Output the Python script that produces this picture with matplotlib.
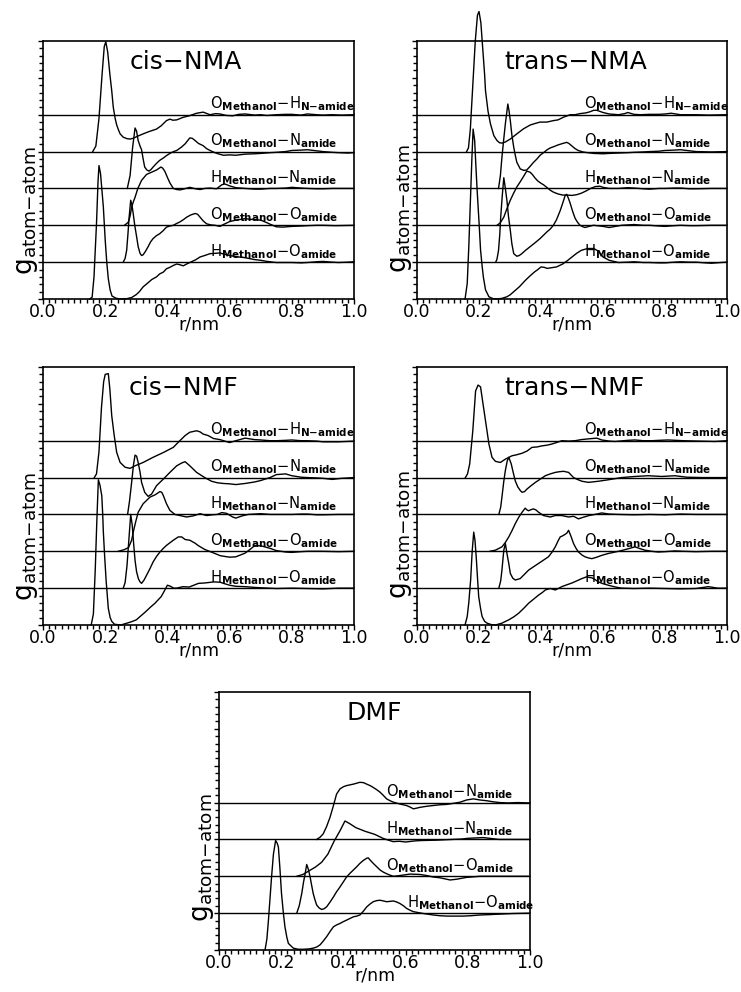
import matplotlib
matplotlib.use("Agg")
import matplotlib.pyplot as plt
import matplotlib.transforms as mtransforms
from matplotlib.ticker import MultipleLocator, FormatStrFormatter

plt.rcParams['font.family'] = ['DejaVu Sans']
plt.rcParams['mathtext.fontset'] = 'dejavusans'

# pair labels (bottom to top of each stack)
LABEL_HO = r'H$_{\mathbf{Methanol}}$−O$_{\mathbf{amide}}$'
LABEL_OO = r'O$_{\mathbf{Methanol}}$−O$_{\mathbf{amide}}$'
LABEL_HN = r'H$_{\mathbf{Methanol}}$−N$_{\mathbf{amide}}$'
LABEL_ON = r'O$_{\mathbf{Methanol}}$−N$_{\mathbf{amide}}$'
LABEL_OH = r'O$_{\mathbf{Methanol}}$−H$_{\mathbf{N{-}amide}}$'

# ---- cis-NMA : (r/nm, g) ----
cis_nma_ho = [(0.150, 0.0), (0.158, 0.05), (0.164, 0.6), (0.172, 2.04), (0.177, 3.2), (0.180, 3.62),
              (0.185, 3.4), (0.190, 2.9), (0.194, 2.5), (0.200, 1.6), (0.205, 1.0), (0.210, 0.55),
              (0.216, 0.24), (0.222, 0.08), (0.235, 0.02), (0.250, 0.0), (0.270, 0.01), (0.285, 0.04),
              (0.300, 0.12), (0.310, 0.2), (0.322, 0.33), (0.335, 0.42), (0.350, 0.53), (0.365, 0.6),
              (0.375, 0.68), (0.387, 0.73), (0.397, 0.82), (0.408, 0.86), (0.419, 0.91), (0.430, 0.95),
              (0.440, 0.93), (0.451, 0.9), (0.462, 0.95), (0.472, 0.99), (0.490, 1.06), (0.505, 1.14),
              (0.520, 1.18), (0.537, 1.23), (0.555, 1.24), (0.569, 1.25), (0.580, 1.22), (0.60, 1.18),
              (0.62, 1.15), (0.65, 1.12), (0.68, 1.07), (0.70, 1.05), (0.72, 1.02), (0.75, 0.99),
              (0.78, 0.99), (0.80, 0.99), (0.83, 0.98), (0.85, 0.99), (0.88, 1.01), (0.90, 1.02),
              (0.93, 1.0), (0.95, 0.99), (0.98, 1.0), (1.0, 1.01)]
cis_nma_oo = [(0.258, 0.0), (0.264, 0.1), (0.269, 0.32), (0.273, 0.75), (0.277, 1.22), (0.282, 1.68),
              (0.286, 1.55), (0.290, 1.32), (0.295, 1.0), (0.301, 0.69), (0.306, 0.42), (0.312, 0.24),
              (0.317, 0.18), (0.322, 0.2), (0.330, 0.3), (0.338, 0.42), (0.346, 0.55), (0.354, 0.64),
              (0.365, 0.72), (0.375, 0.77), (0.386, 0.85), (0.397, 0.95), (0.408, 0.98), (0.419, 1.0),
              (0.430, 1.05), (0.440, 1.09), (0.451, 1.15), (0.462, 1.22), (0.475, 1.28), (0.489, 1.32),
              (0.497, 1.3), (0.505, 1.22), (0.515, 1.12), (0.526, 1.04), (0.540, 1.01), (0.553, 1.0),
              (0.569, 0.97), (0.58, 1.02), (0.60, 1.1), (0.62, 1.14), (0.65, 1.18), (0.67, 1.16),
              (0.70, 1.14), (0.72, 1.07), (0.73, 1.03), (0.75, 0.96), (0.77, 0.95), (0.80, 0.97),
              (0.83, 0.98), (0.85, 0.99), (0.88, 1.0), (0.90, 1.0), (0.94, 0.99), (1.0, 1.0)]
cis_nma_hn = [(0.262, 0.0), (0.274, 0.08), (0.280, 0.25), (0.285, 0.49), (0.291, 0.65), (0.296, 0.76),
              (0.305, 1.0), (0.317, 1.22), (0.333, 1.38), (0.349, 1.44), (0.365, 1.5), (0.379, 1.58),
              (0.385, 1.55), (0.392, 1.46), (0.400, 1.3), (0.408, 1.15), (0.419, 1.0), (0.430, 0.97),
              (0.441, 0.96), (0.455, 0.99), (0.472, 1.03), (0.49, 0.99), (0.505, 0.97), (0.52, 1.0),
              (0.537, 1.01), (0.558, 0.99), (0.575, 1.1), (0.585, 1.12), (0.60, 1.07), (0.62, 1.02),
              (0.65, 1.0), (0.68, 0.98), (0.70, 0.98), (0.73, 1.0), (0.75, 1.0), (0.78, 1.01),
              (0.80, 1.03), (0.83, 1.01), (0.85, 1.0), (0.88, 0.99), (0.90, 0.99), (0.93, 1.0),
              (0.96, 1.0), (1.0, 1.0)]
cis_nma_on = [(0.271, 0.0), (0.280, 0.35), (0.288, 1.1), (0.296, 1.64), (0.301, 1.55), (0.306, 1.3),
              (0.312, 1.15), (0.317, 1.05), (0.322, 0.8), (0.327, 0.58), (0.334, 0.5), (0.341, 0.47),
              (0.348, 0.52), (0.354, 0.58), (0.365, 0.68), (0.375, 0.76), (0.386, 0.82), (0.397, 0.89),
              (0.41, 0.96), (0.42, 1.0), (0.430, 1.03), (0.445, 1.12), (0.457, 1.21), (0.472, 1.37),
              (0.480, 1.36), (0.489, 1.3), (0.50, 1.22), (0.515, 1.16), (0.526, 1.08), (0.537, 1.03),
              (0.550, 0.98), (0.563, 0.94), (0.58, 0.9), (0.60, 0.91), (0.62, 0.9), (0.65, 0.93),
              (0.68, 0.94), (0.70, 0.95), (0.73, 0.97), (0.75, 0.98), (0.78, 1.0), (0.80, 1.03),
              (0.83, 1.04), (0.85, 1.05), (0.88, 1.02), (0.90, 1.0), (0.93, 0.98), (0.95, 0.97),
              (0.98, 0.96), (1.0, 0.97)]
cis_nma_oh = [(0.160, 0.0), (0.170, 0.15), (0.180, 0.9), (0.190, 2.1), (0.197, 2.85), (0.202, 2.98),
              (0.208, 2.7), (0.215, 2.1), (0.221, 1.65), (0.226, 1.2), (0.232, 0.9), (0.237, 0.72),
              (0.243, 0.58), (0.248, 0.48), (0.258, 0.39), (0.270, 0.35), (0.280, 0.34), (0.290, 0.36),
              (0.305, 0.42), (0.322, 0.48), (0.340, 0.54), (0.365, 0.61), (0.380, 0.7), (0.397, 0.84),
              (0.408, 0.88), (0.418, 0.85), (0.430, 0.86), (0.451, 0.93), (0.470, 0.97), (0.494, 1.04),
              (0.515, 1.07), (0.537, 1.0), (0.555, 1.03), (0.569, 1.02), (0.59, 0.98), (0.61, 0.97),
              (0.63, 1.01), (0.65, 1.02), (0.68, 0.99), (0.70, 1.0), (0.72, 0.98), (0.75, 1.0),
              (0.78, 1.01), (0.80, 1.01), (0.83, 0.99), (0.85, 1.02), (0.88, 1.0), (0.90, 0.99),
              (0.93, 1.0), (0.96, 0.99), (1.0, 1.0)]

# ---- trans-NMA ----
trans_nma_ho = [(0.155, 0.0), (0.162, 0.42), (0.167, 1.4), (0.172, 2.6), (0.177, 3.8), (0.181, 4.61),
                (0.186, 4.3), (0.190, 3.6), (0.194, 2.95), (0.200, 2.1), (0.205, 1.33), (0.210, 0.9),
                (0.214, 0.6), (0.221, 0.25), (0.232, 0.06), (0.245, 0.01), (0.26, 0.0), (0.275, 0.02),
                (0.29, 0.06), (0.300, 0.11), (0.315, 0.22), (0.330, 0.33), (0.340, 0.42), (0.350, 0.51),
                (0.365, 0.63), (0.380, 0.74), (0.390, 0.8), (0.400, 0.87), (0.410, 0.86), (0.420, 0.83),
                (0.435, 0.85), (0.450, 0.87), (0.470, 0.95), (0.485, 1.04), (0.500, 1.14), (0.515, 1.24),
                (0.530, 1.32), (0.550, 1.37), (0.570, 1.37), (0.585, 1.3), (0.600, 1.14), (0.620, 1.05),
                (0.65, 0.99), (0.68, 1.0), (0.70, 1.01), (0.73, 0.99), (0.75, 0.99), (0.78, 0.98),
                (0.80, 0.98), (0.83, 1.0), (0.85, 1.01), (0.88, 1.0), (0.90, 1.0), (0.93, 0.98),
                (0.95, 0.97), (0.98, 0.99), (1.0, 1.0)]
trans_nma_oo = [(0.254, 0.0), (0.258, 0.08), (0.263, 0.32), (0.267, 0.75), (0.270, 1.22), (0.275, 1.8),
                (0.280, 2.29), (0.285, 2.0), (0.290, 1.68), (0.295, 1.25), (0.301, 0.86), (0.306, 0.5),
                (0.312, 0.23), (0.322, 0.16), (0.330, 0.18), (0.338, 0.23), (0.350, 0.32), (0.365, 0.42),
                (0.380, 0.52), (0.397, 0.64), (0.408, 0.73), (0.419, 0.82), (0.430, 0.9), (0.440, 1.0),
                (0.450, 1.15), (0.462, 1.4), (0.470, 1.6), (0.478, 1.81), (0.483, 1.84), (0.489, 1.72),
                (0.494, 1.6), (0.502, 1.38), (0.510, 1.19), (0.518, 1.08), (0.526, 1.0), (0.535, 0.96),
                (0.542, 0.94), (0.555, 0.97), (0.569, 1.0), (0.58, 0.99), (0.60, 0.97), (0.62, 0.94),
                (0.64, 0.97), (0.66, 1.0), (0.68, 1.01), (0.70, 1.02), (0.73, 1.0), (0.75, 1.0),
                (0.78, 0.98), (0.80, 0.97), (0.83, 0.99), (0.85, 1.0), (0.88, 0.99), (0.90, 0.99),
                (0.95, 1.0), (1.0, 1.0)]
trans_nma_hn = [(0.258, 0.0), (0.268, 0.06), (0.280, 0.22), (0.290, 0.45), (0.301, 0.68), (0.311, 0.86),
                (0.322, 1.04), (0.333, 1.18), (0.344, 1.33), (0.354, 1.47), (0.365, 1.44), (0.372, 1.38),
                (0.381, 1.28), (0.390, 1.2), (0.400, 1.14), (0.408, 1.1), (0.420, 1.02), (0.430, 0.95),
                (0.440, 0.9), (0.455, 0.85), (0.470, 0.82), (0.485, 0.82), (0.50, 0.81), (0.515, 0.83),
                (0.53, 0.87), (0.545, 0.93), (0.56, 1.0), (0.575, 1.05), (0.59, 1.06), (0.60, 1.03),
                (0.62, 1.0), (0.65, 1.0), (0.68, 1.02), (0.70, 1.01), (0.73, 0.99), (0.75, 0.98),
                (0.78, 1.0), (0.80, 1.0), (0.83, 1.01), (0.85, 1.01), (0.88, 0.99), (0.90, 0.99),
                (0.95, 1.0), (1.0, 1.0)]
trans_nma_on = [(0.263, 0.0), (0.269, 0.35), (0.274, 0.85), (0.280, 1.35), (0.285, 1.75), (0.293, 2.29),
                (0.297, 2.1), (0.301, 1.84), (0.306, 1.45), (0.312, 1.12), (0.317, 0.9), (0.322, 0.71),
                (0.333, 0.53), (0.344, 0.49), (0.354, 0.5), (0.365, 0.6), (0.375, 0.7), (0.387, 0.8),
                (0.397, 0.9), (0.408, 0.97), (0.420, 1.05), (0.430, 1.1), (0.440, 1.13), (0.455, 1.18),
                (0.470, 1.22), (0.483, 1.25), (0.490, 1.22), (0.500, 1.15), (0.510, 1.08), (0.520, 1.03),
                (0.535, 0.99), (0.550, 0.97), (0.57, 0.95), (0.60, 0.94), (0.62, 0.95), (0.65, 0.96),
                (0.68, 0.97), (0.70, 0.98), (0.73, 0.99), (0.75, 1.0), (0.78, 1.01), (0.80, 1.03),
                (0.83, 1.04), (0.85, 1.05), (0.88, 1.02), (0.90, 1.0), (0.95, 0.99), (1.0, 1.0)]
trans_nma_oh = [(0.160, 0.0), (0.166, 0.1), (0.172, 0.6), (0.180, 1.8), (0.188, 3.0), (0.195, 3.7),
                (0.200, 3.8), (0.206, 3.5), (0.212, 2.8), (0.218, 2.1), (0.221, 1.65), (0.229, 1.1),
                (0.237, 0.75), (0.248, 0.43), (0.258, 0.3), (0.266, 0.24), (0.274, 0.23), (0.285, 0.26),
                (0.301, 0.34), (0.322, 0.48), (0.344, 0.62), (0.365, 0.72), (0.380, 0.76), (0.397, 0.8),
                (0.419, 0.8), (0.440, 0.84), (0.455, 0.86), (0.472, 0.93), (0.494, 1.0), (0.510, 1.0),
                (0.526, 1.03), (0.545, 1.05), (0.558, 1.08), (0.570, 1.12), (0.580, 1.12), (0.60, 1.06),
                (0.62, 1.02), (0.65, 1.0), (0.67, 1.03), (0.68, 1.06), (0.70, 1.01), (0.72, 1.0),
                (0.75, 1.01), (0.78, 1.01), (0.80, 1.02), (0.82, 1.04), (0.85, 1.0), (0.88, 1.0),
                (0.90, 1.0), (0.94, 0.99), (1.0, 1.0)]

# ---- cis-NMF ----
cis_nmf_ho = [(0.155, 0.0), (0.162, 0.3), (0.168, 1.5), (0.173, 2.8), (0.178, 3.94), (0.183, 3.8),
              (0.189, 3.51), (0.192, 3.0), (0.194, 2.53), (0.198, 1.9), (0.203, 1.2), (0.210, 0.45),
              (0.216, 0.2), (0.221, 0.1), (0.230, 0.02), (0.25, 0.0), (0.27, 0.05), (0.285, 0.09),
              (0.300, 0.14), (0.315, 0.25), (0.330, 0.36), (0.345, 0.48), (0.360, 0.59), (0.380, 0.77),
              (0.390, 0.92), (0.400, 1.08), (0.410, 1.05), (0.420, 1.0), (0.430, 1.0), (0.45, 1.04),
              (0.47, 1.03), (0.50, 1.13), (0.52, 1.14), (0.55, 1.17), (0.57, 1.16), (0.58, 1.13),
              (0.60, 1.08), (0.62, 1.05), (0.65, 1.04), (0.68, 1.02), (0.70, 1.01), (0.75, 0.99),
              (0.80, 1.0), (0.85, 0.99), (0.90, 0.98), (0.95, 1.0), (1.0, 1.0)]
cis_nmf_oo = [(0.258, 0.0), (0.264, 0.15), (0.270, 0.6), (0.276, 1.3), (0.282, 2.0), (0.287, 1.7),
              (0.292, 1.15), (0.296, 0.75), (0.301, 0.44), (0.307, 0.25), (0.312, 0.17), (0.317, 0.13),
              (0.325, 0.22), (0.333, 0.35), (0.344, 0.53), (0.354, 0.71), (0.365, 0.86), (0.376, 0.98),
              (0.387, 1.08), (0.397, 1.16), (0.408, 1.23), (0.419, 1.3), (0.435, 1.39), (0.446, 1.39),
              (0.457, 1.32), (0.472, 1.3), (0.489, 1.22), (0.50, 1.15), (0.52, 1.05), (0.55, 0.95),
              (0.57, 0.88), (0.60, 0.84), (0.62, 0.85), (0.65, 0.95), (0.67, 1.08), (0.68, 1.15),
              (0.70, 1.15), (0.73, 1.08), (0.75, 1.02), (0.78, 0.98), (0.80, 0.97), (0.83, 0.99),
              (0.85, 1.0), (0.88, 1.0), (0.90, 1.0), (0.95, 0.99), (1.0, 1.0)]
cis_nmf_hn = [(0.242, 0.0), (0.26, 0.04), (0.275, 0.1), (0.285, 0.3), (0.291, 0.55), (0.298, 0.8),
              (0.306, 1.06), (0.322, 1.29), (0.344, 1.47), (0.360, 1.53), (0.376, 1.62), (0.382, 1.6),
              (0.387, 1.51), (0.397, 1.29), (0.408, 1.11), (0.424, 1.0), (0.440, 0.97), (0.462, 0.93),
              (0.483, 0.96), (0.505, 1.02), (0.526, 0.97), (0.545, 0.99), (0.56, 1.0), (0.575, 1.05),
              (0.59, 1.03), (0.61, 0.93), (0.62, 0.9), (0.64, 0.96), (0.66, 1.0), (0.70, 1.02),
              (0.73, 1.0), (0.75, 1.0), (0.78, 1.0), (0.80, 1.0), (0.83, 1.01), (0.85, 1.01),
              (0.88, 0.99), (0.90, 0.99), (0.95, 1.0), (1.0, 1.0)]
cis_nmf_on = [(0.272, 0.0), (0.278, 0.35), (0.285, 0.87), (0.291, 1.35), (0.296, 1.61), (0.301, 1.58),
              (0.306, 1.41), (0.312, 1.15), (0.317, 0.87), (0.327, 0.6), (0.338, 0.49), (0.349, 0.55),
              (0.365, 0.78), (0.387, 0.96), (0.408, 1.14), (0.430, 1.32), (0.447, 1.4), (0.457, 1.43),
              (0.472, 1.32), (0.494, 1.14), (0.520, 1.0), (0.542, 0.9), (0.56, 0.86), (0.58, 0.84),
              (0.60, 0.83), (0.62, 0.81), (0.65, 0.84), (0.68, 0.88), (0.70, 0.92), (0.73, 1.0),
              (0.75, 1.08), (0.78, 1.1), (0.80, 1.05), (0.83, 1.01), (0.85, 1.0), (0.88, 0.99),
              (0.90, 0.98), (0.93, 0.95), (0.96, 0.98), (1.0, 1.0)]
cis_nmf_oh = [(0.165, 0.0), (0.172, 0.1), (0.180, 0.7), (0.188, 1.9), (0.195, 2.6), (0.200, 2.8),
              (0.210, 2.82), (0.215, 2.4), (0.221, 1.68), (0.229, 1.14), (0.237, 0.68), (0.248, 0.41),
              (0.264, 0.28), (0.280, 0.25), (0.296, 0.32), (0.322, 0.41), (0.354, 0.55), (0.387, 0.68),
              (0.419, 0.82), (0.440, 1.0), (0.457, 1.14), (0.472, 1.23), (0.494, 1.27), (0.505, 1.24),
              (0.515, 1.18), (0.531, 1.14), (0.548, 1.06), (0.569, 1.03), (0.60, 0.95), (0.62, 1.0),
              (0.65, 1.07), (0.68, 1.03), (0.70, 1.02), (0.73, 1.0), (0.75, 1.0), (0.78, 1.01),
              (0.80, 1.02), (0.83, 1.0), (0.85, 1.0), (0.88, 0.99), (0.90, 0.97), (0.95, 0.97),
              (1.0, 0.99)]

# ---- trans-NMF ----
trans_nmf_ho = [(0.155, 0.0), (0.162, 0.23), (0.167, 0.6), (0.173, 1.22), (0.178, 2.0), (0.183, 2.52),
                (0.187, 2.3), (0.191, 1.85), (0.195, 1.3), (0.199, 0.77), (0.205, 0.45), (0.210, 0.23),
                (0.218, 0.1), (0.226, 0.05), (0.24, 0.01), (0.253, 0.0), (0.274, 0.05), (0.296, 0.14),
                (0.312, 0.22), (0.328, 0.32), (0.344, 0.45), (0.36, 0.59), (0.376, 0.7), (0.392, 0.81),
                (0.404, 0.88), (0.414, 0.95), (0.43, 0.99), (0.446, 0.95), (0.458, 1.0), (0.467, 1.04),
                (0.483, 1.09), (0.50, 1.14), (0.516, 1.2), (0.532, 1.26), (0.548, 1.31), (0.556, 1.29),
                (0.564, 1.28), (0.575, 1.23), (0.585, 1.17), (0.60, 1.12), (0.617, 1.08), (0.64, 1.03),
                (0.66, 1.0), (0.70, 0.99), (0.75, 1.0), (0.80, 0.99), (0.85, 0.98), (0.90, 0.99),
                (0.94, 1.04), (0.97, 1.0), (1.0, 1.0)]
trans_nmf_oo = [(0.264, 0.0), (0.270, 0.2), (0.274, 0.49), (0.280, 1.03), (0.285, 1.21), (0.290, 0.95),
                (0.296, 0.67), (0.301, 0.4), (0.309, 0.27), (0.317, 0.22), (0.333, 0.26), (0.346, 0.37),
                (0.360, 0.49), (0.376, 0.58), (0.392, 0.67), (0.408, 0.76), (0.424, 0.85), (0.435, 0.97),
                (0.446, 1.12), (0.455, 1.28), (0.462, 1.39), (0.470, 1.42), (0.478, 1.46), (0.484, 1.5),
                (0.489, 1.57), (0.497, 1.4), (0.505, 1.21), (0.513, 1.08), (0.521, 0.98), (0.532, 0.9),
                (0.542, 0.85), (0.553, 0.82), (0.564, 0.8), (0.58, 0.84), (0.596, 0.89), (0.617, 0.94),
                (0.639, 0.98), (0.66, 1.02), (0.682, 1.07), (0.703, 1.12), (0.72, 1.07), (0.735, 1.03),
                (0.757, 1.0), (0.778, 0.98), (0.80, 0.99), (0.832, 1.01), (0.86, 1.0), (0.90, 0.99),
                (0.95, 1.0), (1.0, 1.0)]
trans_nmf_hn = [(0.235, 0.0), (0.253, 0.03), (0.274, 0.12), (0.285, 0.24), (0.296, 0.39), (0.307, 0.57),
                (0.317, 0.75), (0.328, 0.92), (0.339, 1.06), (0.349, 1.17), (0.355, 1.12), (0.36, 1.1),
                (0.368, 1.13), (0.376, 1.15), (0.384, 1.12), (0.392, 1.06), (0.408, 0.97), (0.430, 0.93),
                (0.446, 0.97), (0.467, 0.97), (0.489, 0.93), (0.505, 0.95), (0.521, 0.88), (0.535, 0.92),
                (0.555, 0.97), (0.574, 1.0), (0.596, 1.04), (0.62, 1.01), (0.65, 1.0), (0.70, 0.99),
                (0.75, 1.0), (0.80, 0.99), (0.85, 1.01), (0.90, 1.0), (0.95, 1.0), (1.0, 1.0)]
trans_nmf_on = [(0.264, 0.0), (0.270, 0.2), (0.274, 0.47), (0.280, 0.9), (0.285, 1.19), (0.291, 1.45),
                (0.296, 1.55), (0.304, 1.37), (0.310, 1.15), (0.317, 0.91), (0.325, 0.75), (0.333, 0.65),
                (0.339, 0.6), (0.347, 0.62), (0.355, 0.69), (0.368, 0.78), (0.382, 0.87), (0.398, 0.96),
                (0.414, 1.05), (0.430, 1.1), (0.446, 1.14), (0.460, 1.16), (0.473, 1.17), (0.489, 1.14),
                (0.505, 1.0), (0.52, 0.94), (0.532, 0.9), (0.553, 0.87), (0.585, 0.9), (0.617, 0.94),
                (0.66, 1.0), (0.703, 1.03), (0.746, 1.05), (0.789, 1.03), (0.832, 1.05), (0.87, 1.01),
                (0.92, 1.0), (0.96, 1.0), (1.0, 1.0)]
trans_nmf_oh = [(0.156, 0.0), (0.163, 0.1), (0.170, 0.37), (0.180, 1.27), (0.189, 2.35), (0.197, 2.51),
                (0.205, 2.46), (0.210, 2.17), (0.221, 1.54), (0.232, 0.91), (0.242, 0.55), (0.253, 0.44),
                (0.269, 0.41), (0.285, 0.5), (0.306, 0.59), (0.322, 0.62), (0.339, 0.66), (0.355, 0.72),
                (0.371, 0.82), (0.387, 0.83), (0.403, 0.86), (0.42, 0.88), (0.435, 0.91), (0.45, 0.95),
                (0.467, 1.0), (0.49, 0.99), (0.51, 1.0), (0.53, 1.03), (0.553, 1.05), (0.58, 1.07),
                (0.596, 1.02), (0.62, 0.99), (0.639, 0.98), (0.68, 1.01), (0.703, 1.02), (0.73, 1.0),
                (0.757, 1.0), (0.78, 1.01), (0.81, 1.02), (0.86, 1.0), (0.91, 0.99), (0.96, 0.98),
                (1.0, 1.0)]

# ---- DMF (no N-H) ----
dmf_ho = [(0.148, 0.0), (0.154, 0.3), (0.159, 0.81), (0.164, 1.4), (0.169, 1.98), (0.175, 2.6),
          (0.182, 2.97), (0.187, 2.9), (0.191, 2.79), (0.196, 2.2), (0.201, 1.53), (0.207, 1.0),
          (0.212, 0.63), (0.218, 0.35), (0.223, 0.18), (0.239, 0.05), (0.255, 0.02), (0.271, 0.02),
          (0.29, 0.03), (0.303, 0.05), (0.314, 0.08), (0.325, 0.14), (0.335, 0.24), (0.346, 0.36),
          (0.357, 0.5), (0.368, 0.63), (0.378, 0.68), (0.389, 0.72), (0.40, 0.77), (0.41, 0.81),
          (0.432, 0.9), (0.443, 0.92), (0.453, 0.95), (0.464, 1.05), (0.475, 1.17), (0.486, 1.25),
          (0.496, 1.31), (0.507, 1.34), (0.518, 1.35), (0.529, 1.33), (0.539, 1.31), (0.55, 1.32),
          (0.561, 1.33), (0.572, 1.3), (0.582, 1.26), (0.593, 1.2), (0.603, 1.13), (0.614, 1.08),
          (0.625, 1.04), (0.657, 0.99), (0.689, 0.95), (0.71, 0.93), (0.732, 0.92), (0.76, 0.92),
          (0.786, 0.92), (0.81, 0.93), (0.839, 0.95), (0.87, 0.96), (0.893, 0.97), (0.92, 0.98),
          (0.946, 0.99), (1.0, 1.0)]
dmf_oo = [(0.250, 0.0), (0.258, 0.2), (0.266, 0.53), (0.272, 0.85), (0.277, 1.07), (0.282, 1.32),
          (0.287, 1.2), (0.293, 0.98), (0.298, 0.75), (0.303, 0.53), (0.309, 0.35), (0.314, 0.22),
          (0.322, 0.14), (0.330, 0.1), (0.338, 0.12), (0.346, 0.17), (0.357, 0.3), (0.368, 0.44),
          (0.378, 0.58), (0.389, 0.71), (0.40, 0.85), (0.41, 0.98), (0.421, 1.08), (0.432, 1.17),
          (0.443, 1.26), (0.453, 1.35), (0.464, 1.43), (0.475, 1.49), (0.48, 1.5), (0.486, 1.44),
          (0.496, 1.35), (0.507, 1.26), (0.518, 1.17), (0.529, 1.11), (0.539, 1.07), (0.55, 1.03),
          (0.561, 1.0), (0.582, 1.02), (0.614, 1.06), (0.646, 1.05), (0.668, 1.02), (0.689, 0.98),
          (0.71, 0.96), (0.721, 0.94), (0.743, 0.9), (0.764, 0.92), (0.796, 0.97), (0.839, 1.0),
          (0.88, 1.0), (0.93, 1.0), (1.0, 1.0)]
dmf_hn = [(0.250, 0.0), (0.27, 0.05), (0.29, 0.15), (0.31, 0.25), (0.33, 0.38), (0.35, 0.6),
          (0.37, 0.95), (0.39, 1.25), (0.405, 1.5), (0.42, 1.43), (0.44, 1.32), (0.47, 1.22),
          (0.50, 1.14), (0.53, 1.02), (0.56, 0.94), (0.58, 0.95), (0.60, 0.93), (0.63, 0.96),
          (0.65, 0.97), (0.70, 0.98), (0.75, 1.0), (0.78, 1.01), (0.80, 1.03), (0.85, 1.05),
          (0.88, 1.02), (0.90, 1.0), (0.95, 1.0), (1.0, 1.0)]
dmf_on = [(0.314, 0.0), (0.325, 0.06), (0.335, 0.15), (0.346, 0.35), (0.357, 0.6), (0.368, 0.92),
          (0.378, 1.23), (0.389, 1.37), (0.40, 1.43), (0.41, 1.46), (0.432, 1.5), (0.453, 1.55),
          (0.465, 1.54), (0.475, 1.5), (0.486, 1.46), (0.496, 1.41), (0.507, 1.35), (0.518, 1.28),
          (0.529, 1.19), (0.539, 1.1), (0.55, 1.05), (0.561, 1.01), (0.582, 0.96), (0.603, 0.92),
          (0.614, 0.88), (0.625, 0.83), (0.636, 0.85), (0.646, 0.87), (0.668, 0.9), (0.689, 0.92),
          (0.71, 0.94), (0.732, 0.95), (0.754, 0.98), (0.775, 1.01), (0.796, 1.07), (0.818, 1.1),
          (0.839, 1.07), (0.861, 1.05), (0.882, 1.02), (0.903, 1.0), (0.93, 0.99), (0.96, 1.0),
          (1.0, 0.99)]

# panel table: (title, title x, axes rect in figure px, stacked curves bottom->top, ylabel centre)
W, H = 741, 992
panels = [
    ("cis−NMA", 0.28, (43, 41, 311, 258),
     [(cis_nma_ho, LABEL_HO), (cis_nma_oo, LABEL_OO), (cis_nma_hn, LABEL_HN),
      (cis_nma_on, LABEL_ON), (cis_nma_oh, LABEL_OH)], 2.4),
    ("trans−NMA", 0.283, (417, 41, 310, 258),
     [(trans_nma_ho, LABEL_HO), (trans_nma_oo, LABEL_OO), (trans_nma_hn, LABEL_HN),
      (trans_nma_on, LABEL_ON), (trans_nma_oh, LABEL_OH)], 2.45),
    ("cis−NMF", 0.274, (43, 367, 311, 258),
     [(cis_nmf_ho, LABEL_HO), (cis_nmf_oo, LABEL_OO), (cis_nmf_hn, LABEL_HN),
      (cis_nmf_on, LABEL_ON), (cis_nmf_oh, LABEL_OH)], 2.4),
    ("trans−NMF", 0.283, (417, 367, 310, 258),
     [(trans_nmf_ho, LABEL_HO), (trans_nmf_oo, LABEL_OO), (trans_nmf_hn, LABEL_HN),
      (trans_nmf_on, LABEL_ON), (trans_nmf_oh, LABEL_OH)], 2.45),
    ("DMF", 0.41, (219, 692, 311, 258),
     [(dmf_ho, LABEL_HO), (dmf_oo, LABEL_OO), (dmf_hn, LABEL_HN), (dmf_on, LABEL_ON)], 2.5),
]

fig = plt.figure(figsize=(W / 100, H / 100), dpi=100)

for title, title_x, (px, py, pw, ph), curves, ylab_y in panels:
    ax = fig.add_axes([px / W, 1 - (py + ph) / H, pw / W, ph / H])
    for off, (pts, label) in enumerate(curves):
        r = [p[0] for p in pts]
        g = [p[1] + off for p in pts]
        ax.plot(r, g, color="black", lw=1.0, clip_on=False)
        ax.axhline(off + 1, color="black", lw=1.0)
        lx = 0.603 if (title == "DMF" and off == 0) else 0.538
        ax.text(lx, off + 1.17, label, fontsize=10.6, ha="left", va="baseline")

    ax.text(title_x, 6.24, title, fontsize=18, ha="left", va="baseline")

    ax.set_xlim(0, 1)
    ax.set_ylim(0, 7)
    ax.xaxis.set_major_locator(MultipleLocator(0.2))
    ax.xaxis.set_minor_locator(MultipleLocator(0.02))
    ax.xaxis.set_major_formatter(FormatStrFormatter("%.1f"))
    ax.yaxis.set_major_locator(MultipleLocator(1))
    ax.yaxis.set_minor_locator(MultipleLocator(0.2))
    ax.yaxis.set_major_formatter(plt.NullFormatter())
    ax.tick_params(which="both", direction="out", top=False, right=False, width=1.0)
    ax.tick_params(which="major", length=3.8, pad=-1, labelsize=12.5)
    ax.tick_params(which="minor", length=2.7)
    for sp in ax.spines.values():
        sp.set_linewidth(1.2)
    ax.set_xlabel("r/nm", fontsize=12.5, labelpad=-4)

    trans = mtransforms.blended_transform_factory(ax.transAxes, ax.transData)
    ax.text(-0.053, ylab_y, r"g$_{\mathrm{atom{-}atom}}$", transform=trans, rotation=90,
            ha="center", va="center", fontsize=19)

fig.savefig("out.png", dpi=100)
